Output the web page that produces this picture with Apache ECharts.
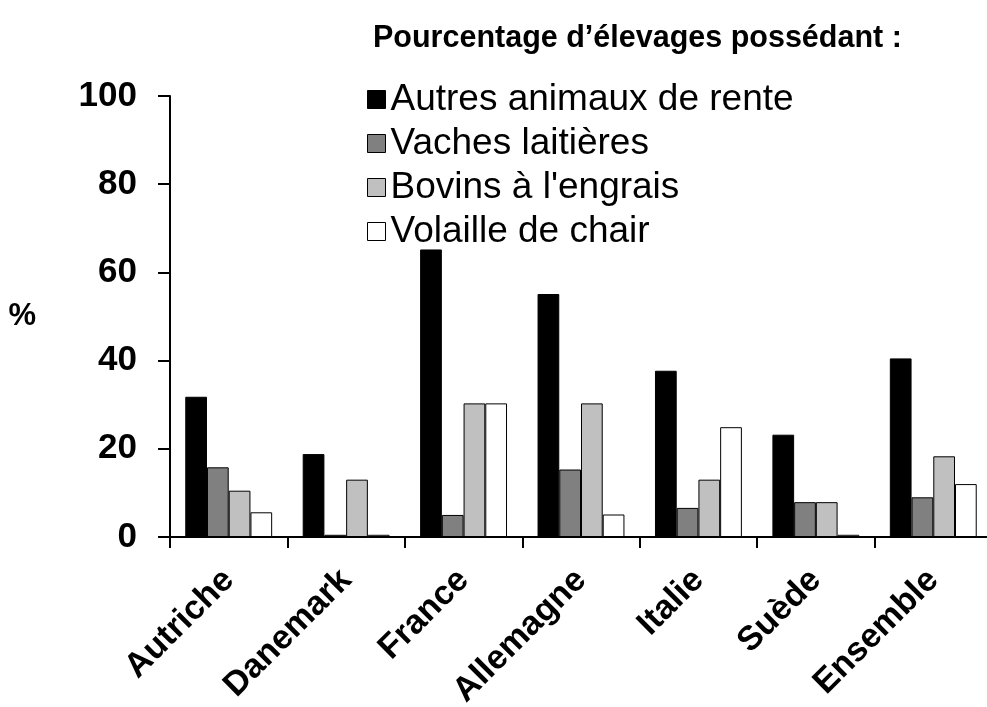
<!DOCTYPE html>
<html>
<head>
<meta charset="utf-8">
<script src="https://cdn.jsdelivr.net/npm/echarts@6/dist/echarts.min.js"></script>
<style>
  html, body { margin: 0; padding: 0; background: #fff; }
  #chart { width: 987px; height: 707px; }
</style>
</head>
<body>
<div id="chart"></div>
<script>
const pays = ["Autriche", "Danemark", "France", "Allemagne", "Italie", "Suède", "Ensemble"];
const seriesNames = ["Autres animaux de rente", "Vaches laitières", "Bovins à l'engrais", "Volaille de chair"];
const autresAnimaux = [31.8, 18.8, 65.2, 55.1, 37.7, 23.2, 40.5];
const vachesLaitieres = [15.8, 0.5, 5.0, 15.3, 6.6, 7.9, 9.0];
const bovinsEngrais = [10.5, 13.0, 30.3, 30.3, 13.0, 7.9, 18.3];
const volailleChair = [5.6, 0.5, 30.3, 5.1, 24.9, 0.5, 12.0];
const colors = ["#000000", "#808080", "#c0c0c0", "#ffffff"];

const font = "'Liberation Sans', Arial, sans-serif";
const chart = echarts.init(document.getElementById("chart"));

const values = [autresAnimaux, vachesLaitieres, bovinsEngrais, volailleChair];

const option = {
  backgroundColor: "#fff",
  animation: false,
  title: {
    text: "Pourcentage d’élevages possédant :",
    left: 368,
    top: 18,
    textStyle: { fontFamily: font, fontWeight: "bold", fontSize: 30.5, color: "#000" }
  },
  legend: {
    orient: "vertical",
    left: 362,
    top: 76,
    itemWidth: 18,
    itemHeight: 18,
    itemGap: 7,
    icon: "rect",
    data: seriesNames,
    textStyle: { fontFamily: font, fontSize: 37, lineHeight: 37, color: "#000" },
    itemStyle: { borderColor: "#000", borderWidth: 1 }
  },
  grid: {
    left: 170, top: 96, width: 822, height: 441,
    containLabel: false,
    outerBoundsMode: "none"
  },
  xAxis: {
    type: "category",
    data: pays,
    axisLine: { lineStyle: { color: "#000", width: 2 } },
    axisTick: { show: true, length: 11, lineStyle: { color: "#000", width: 2 } },
    axisLabel: {
      rotate: 45,
      margin: 38,
      fontFamily: font,
      fontWeight: "bold",
      fontSize: 34,
      color: "#000"
    }
  },
  yAxis: {
    type: "value",
    min: 0,
    max: 100,
    interval: 20,
    name: "%",
    nameLocation: "middle",
    nameRotate: 0,
    nameGap: 134,
    nameTextStyle: { fontFamily: font, fontWeight: "bold", fontSize: 31, color: "#000" },
    axisLine: { show: true, lineStyle: { color: "#000", width: 2 } },
    axisTick: { show: true, length: 12, lineStyle: { color: "#000", width: 2 } },
    splitLine: { show: false },
    axisLabel: {
      margin: 33,
      fontFamily: font,
      fontWeight: "bold",
      fontSize: 35,
      color: "#000"
    }
  },
  series: seriesNames.map((name, i) => ({
    name: name,
    type: "bar",
    data: values[i],
    barGap: "0%",
    barCategoryGap: "26%",
    itemStyle: { color: colors[i], borderColor: "#000", borderWidth: 1 }
  }))
};

chart.setOption(option);
</script>
</body>
</html>
